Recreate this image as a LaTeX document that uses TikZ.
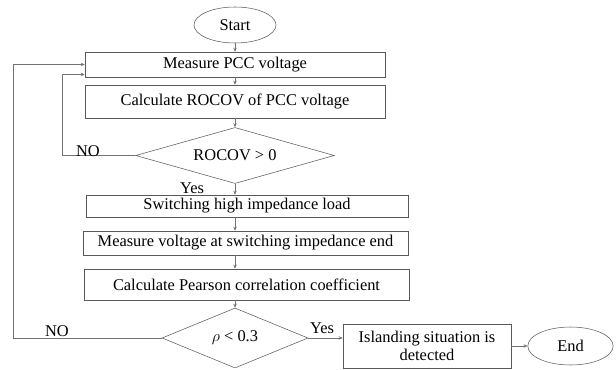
\documentclass[tikz,border=0pt]{standalone}
\usepackage{fontspec}
\setmainfont{Liberation Serif}
\usepackage{tikz}
\usetikzlibrary{arrows.meta, positioning, shapes.geometric, calc}

\begin{document}
\begin{tikzpicture}[
  x=0.75pt, y=-0.75pt,
  every node/.style={font=\fontsize{12.3}{14}\selectfont},
  term/.style={ellipse, draw=black!65, inner sep=1pt},
  proc/.style={rectangle, draw=black!65, inner sep=1pt, align=center},
  cond/.style={diamond, draw=black!65, inner sep=0pt},
  arrow/.style={-{Stealth[length=3pt, width=2.6pt]}, draw=black!55, line width=0.6pt},
  lbl/.style={inner sep=1pt},
]
  \useasboundingbox (0,0) rectangle (616,370);

  \node[term, minimum width=61.5pt, minimum height=27pt] (start) at (235,25) {Start};
  \node[proc, minimum width=225pt, minimum height=18.75pt] (meas) at (235,64.5) {Measure PCC voltage};
  \node[proc, minimum width=225pt, minimum height=24.75pt] (calc) at (235,101.5) {Calculate ROCOV of PCC voltage};
  \node[cond, aspect=3.5, minimum width=149pt, minimum height=42pt] (rocov) at (235,155.5) {ROCOV > 0};
  \node[proc, minimum width=241.5pt, minimum height=16.5pt] (switch) at (247,206) {Switching high impedance load};
  \node[proc, minimum width=243.75pt, minimum height=18pt] (mvolt) at (245.5,243) {Measure voltage at switching impedance end};
  \node[proc, minimum width=243.75pt, minimum height=23.25pt] (pearson) at (246.5,284.5) {Calculate Pearson correlation coefficient};
  \node[cond, aspect=2.4, minimum width=109.5pt, minimum height=45pt] (rho) at (235,338) {$\rho$ < 0.3};
  \node[proc, minimum width=126pt, minimum height=33pt] (island) at (427,346) {Islanding situation is\\detected};
  \node[term, minimum width=64pt, minimum height=28.5pt] (end) at (570.5,346) {End};

  % main column
  \draw[arrow] (start) -- (meas);
  \draw[arrow] (meas) -- (calc);
  \draw[arrow] (calc) -- (rocov);
  \draw[arrow] (rocov.south) -- (rocov.south |- switch.north);
  \draw[arrow] (rocov.south |- switch.south) -- (rocov.south |- mvolt.north);
  \draw[arrow] (rocov.south |- mvolt.south) -- (rocov.south |- pearson.north);
  \draw[arrow] (rocov.south |- pearson.south) -- (rho.north);
  \draw[arrow] (rho.east) -- (rho.east -| island.west);
  \draw[arrow] (island) -- (end);

  % loops back
  \draw[arrow] (rocov.west) -- ++(-73,0) |- ([yshift=-7.5pt]meas.west);
  \draw[arrow] (rho.west) -- ++(-148,0) |- (meas.west);

  \node[lbl] (no1) at (88,151) {NO};
  \node[lbl] (yes1) at (192,188) {Yes};
  \node[lbl] (no2) at (57,331) {NO};
  \node[lbl] (yes2) at (322,328) {Yes};
\end{tikzpicture}
\end{document}
